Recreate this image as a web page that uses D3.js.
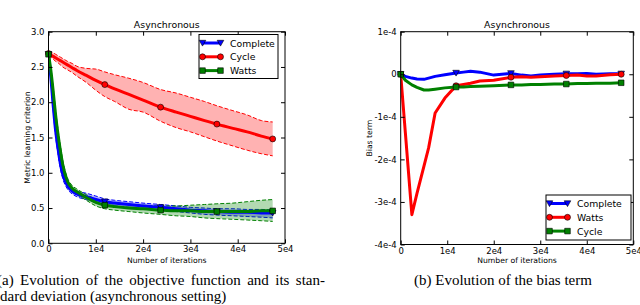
<!DOCTYPE html>
<html>
<head>
<meta charset="utf-8">
<script src="https://cdn.jsdelivr.net/npm/d3@7"></script>
<style>
  body { margin: 0; background: #fff; }
  svg { display: block; }
  text { font-family: "DejaVu Sans", sans-serif; }
  .cap { font-family: "Liberation Serif", "Times New Roman", serif; font-size: 15px; }
</style>
</head>
<body>
<div id="chart"></div>
<script>
// ---------- left panel: metric learning criterion ----------
const iters = [0, 500, 1000, 1500, 2000, 2500, 3000, 4000, 5000, 6000, 8000, 10000, 11900,
  14000, 17000, 20000, 23700, 27000, 30000, 33000, 35600, 39000, 42000, 45000, 47400];

const completeMean = [2.68, 2.35, 1.95, 1.60, 1.35, 1.13, 0.98, 0.82, 0.74, 0.70, 0.66, 0.62, 0.59,
  0.57, 0.55, 0.53, 0.51, 0.49, 0.47, 0.46, 0.45, 0.44, 0.44, 0.43, 0.43];
const completeLo = [2.66, 2.30, 1.88, 1.52, 1.27, 1.06, 0.92, 0.77, 0.70, 0.66, 0.62, 0.58, 0.55,
  0.53, 0.51, 0.49, 0.47, 0.45, 0.43, 0.41, 0.40, 0.39, 0.38, 0.37, 0.36];
const completeHi = [2.70, 2.40, 2.02, 1.68, 1.43, 1.20, 1.04, 0.87, 0.78, 0.74, 0.71, 0.67, 0.63,
  0.61, 0.59, 0.57, 0.55, 0.53, 0.51, 0.50, 0.49, 0.49, 0.48, 0.48, 0.47];

const cycleMean = [2.69, 2.67, 2.65, 2.63, 2.61, 2.59, 2.57, 2.53, 2.49, 2.45, 2.38, 2.31, 2.25,
  2.19, 2.11, 2.03, 1.93, 1.86, 1.80, 1.74, 1.69, 1.63, 1.58, 1.52, 1.48];
const cycleLo = [2.66, 2.64, 2.61, 2.58, 2.56, 2.53, 2.50, 2.46, 2.42, 2.37, 2.28, 2.17, 2.08,
  2.01, 1.90, 1.86, 1.73, 1.64, 1.58, 1.51, 1.45, 1.38, 1.32, 1.27, 1.24];
const cycleHi = [2.72, 2.71, 2.70, 2.68, 2.66, 2.64, 2.62, 2.58, 2.55, 2.51, 2.48, 2.47, 2.43,
  2.39, 2.34, 2.28, 2.18, 2.13, 2.07, 2.01, 1.95, 1.88, 1.82, 1.74, 1.72];

const wattsMean = [2.68, 2.45, 2.15, 1.82, 1.55, 1.32, 1.12, 0.88, 0.78, 0.73, 0.65, 0.58, 0.54,
  0.52, 0.50, 0.49, 0.47, 0.46, 0.46, 0.45, 0.45, 0.45, 0.45, 0.46, 0.46];
const wattsLo = [2.66, 2.41, 2.09, 1.75, 1.48, 1.25, 1.06, 0.83, 0.74, 0.69, 0.61, 0.53, 0.49,
  0.47, 0.45, 0.43, 0.41, 0.39, 0.38, 0.36, 0.35, 0.34, 0.33, 0.32, 0.31];
const wattsHi = [2.70, 2.49, 2.21, 1.89, 1.62, 1.39, 1.18, 0.93, 0.82, 0.77, 0.69, 0.63, 0.59,
  0.57, 0.55, 0.54, 0.53, 0.53, 0.54, 0.55, 0.56, 0.57, 0.59, 0.61, 0.62];

// ---------- right panel: bias term (units of 1e-4) ----------
const iters2 = [0, 1000, 2400, 3500, 5000, 6000, 7400, 9500, 11900, 13500, 15000, 17000, 20000,
  23700, 26000, 28000, 30000, 33000, 35600, 38000, 40000, 42000, 45000, 47400];
const biasComplete = [0, -0.05, -0.09, -0.11, -0.12, -0.09, -0.05, -0.01, 0.03, 0.05, 0.07, 0.05, -0.02,
  0.02, -0.02, -0.04, -0.02, 0, 0.01, 0.01, 0.02, 0, 0.01, 0.01];
const biasWatts = [0, -1.37, -3.3, -2.8, -2.16, -1.73, -0.91, -0.56, -0.27, -0.24, -0.21, -0.16, -0.14,
  -0.07, -0.06, -0.07, -0.06, -0.04, -0.03, -0.02, -0.04, -0.04, -0.01, 0];
const biasCycle = [0, -0.14, -0.25, -0.31, -0.37, -0.37, -0.35, -0.32, -0.30, -0.30, -0.29, -0.28, -0.27,
  -0.25, -0.25, -0.24, -0.24, -0.23, -0.23, -0.22, -0.22, -0.21, -0.21, -0.20];

const markerIters = [0, 11900, 23700, 35600, 47400];
const xTicks = [0, 10000, 20000, 30000, 40000, 50000];
const xTickLabels = ["0", "1e4", "2e4", "3e4", "4e4", "5e4"];
const yTicksA = [0, 0.5, 1.0, 1.5, 2.0, 2.5, 3.0];
const yTickLabelsA = ["0.0", "0.5", "1.0", "1.5", "2.0", "2.5", "3.0"];
const yTicksB = [-4, -3, -2, -1, 0, 1];
const yTickLabelsB = ["-4e-4", "-3e-4", "-2e-4", "-1e-4", "0", "1e-4"];

const BLUE = "#0000ff", RED = "#ff0000", GREEN = "#008000";

const svg = d3.select("#chart").append("svg")
  .attr("width", 640).attr("height", 305);

function markerPath(shape) {
  if (shape === "tri") return "M-3.3,-2.7L3.3,-2.7L0,3.1Z";
  if (shape === "sq") return "M-2.8,-2.8H2.8V2.8H-2.8Z";
  return d3.symbol(d3.symbolCircle, 28)();
}

function drawMarker(g, x, y, shape, color) {
  g.append("path")
    .attr("transform", "translate(" + x + "," + y + ")")
    .attr("d", markerPath(shape))
    .attr("fill", color).attr("stroke", "#000").attr("stroke-width", 0.6);
}

function drawPanel(p) {
  let g = svg.append("g");
  let x = d3.scaleLinear().domain([0, 50000]).range([p.left, p.right]);
  let y = d3.scaleLinear().domain(p.yDomain).range([p.bottom, p.top]);

  g.append("clipPath").attr("id", p.id)
    .append("rect").attr("x", p.left).attr("y", p.top)
    .attr("width", p.right - p.left).attr("height", p.bottom - p.top);
  let plot = g.append("g").attr("clip-path", "url(#" + p.id + ")");

  p.series.forEach((s) => {
    if (s.lo) {
      let area = d3.area().x((d, i) => x(s.x[i])).y0((d, i) => y(s.lo[i])).y1((d, i) => y(s.hi[i]))
        .curve(d3.curveMonotoneX);
      plot.append("path").attr("d", area(s.lo)).attr("fill", s.color).attr("fill-opacity", 0.3);
      [s.lo, s.hi].forEach((b) => {
        let ln = d3.line().x((d, i) => x(s.x[i])).y((d) => y(d)).curve(d3.curveMonotoneX);
        plot.append("path").attr("d", ln(b)).attr("fill", "none")
          .attr("stroke", s.color).attr("stroke-width", 1).attr("stroke-dasharray", "4,2");
      });
    }
  });
  p.series.forEach((s) => {
    let ln = d3.line().x((d, i) => x(s.x[i])).y((d) => y(d)).curve(p.curve);
    plot.append("path").attr("d", ln(s.y)).attr("fill", "none")
      .attr("stroke", s.color).attr("stroke-width", 3).attr("stroke-linejoin", "round");
  });
  p.series.forEach((s) => {
    s.x.forEach((xv, i) => {
      if (markerIters.includes(xv)) drawMarker(g, x(xv), y(s.y[i]), s.shape, s.color);
    });
  });

  // frame
  g.append("rect").attr("x", p.left).attr("y", p.top)
    .attr("width", p.right - p.left).attr("height", p.bottom - p.top)
    .attr("fill", "none").attr("stroke", "#000").attr("stroke-width", 1);

  // ticks (inward, all four sides)
  let ax = g.append("g").attr("transform", "translate(0," + p.bottom + ")")
    .call(d3.axisBottom(x).tickValues(xTicks).tickSizeInner(-4).tickSizeOuter(0)
      .tickPadding(3).tickFormat((d, i) => xTickLabels[i]));
  let axTop = g.append("g").attr("transform", "translate(0," + p.top + ")")
    .call(d3.axisTop(x).tickValues(xTicks).tickSizeInner(-4).tickSizeOuter(0).tickFormat(""));
  let ay = g.append("g").attr("transform", "translate(" + p.left + ",0)")
    .call(d3.axisLeft(y).tickValues(p.yTicks).tickSizeInner(-4).tickSizeOuter(0)
      .tickPadding(4).tickFormat((d, i) => p.yLabels[i]));
  let ayR = g.append("g").attr("transform", "translate(" + p.right + ",0)")
    .call(d3.axisRight(y).tickValues(p.yTicks).tickSizeInner(-4).tickSizeOuter(0).tickFormat(""));
  [ax, axTop, ay, ayR].forEach((a) => {
    a.select(".domain").remove();
    a.selectAll("line").attr("stroke", "#000");
    a.selectAll("text").attr("font-size", 8.5).attr("fill", "#000")
      .style("font-family", "'DejaVu Sans', sans-serif");
  });

  g.append("text").attr("x", (p.left + p.right) / 2).attr("y", 27.5)
    .attr("text-anchor", "middle").attr("font-size", 9.4).text("Asynchronous");
  g.append("text").attr("x", (p.left + p.right) / 2).attr("y", 263)
    .attr("text-anchor", "middle").attr("font-size", 7.7).text("Number of iterations");
  g.append("text")
    .attr("transform", "translate(" + p.yLabelX + "," + (p.top + p.bottom) / 2 + ") rotate(-90)")
    .attr("text-anchor", "middle").attr("font-size", 7.7).text(p.yLabel);

  // legend
  let lg = g.append("g");
  lg.append("rect").attr("x", p.legend.x).attr("y", p.legend.y)
    .attr("width", p.legend.w).attr("height", p.legend.h)
    .attr("fill", "#fff").attr("stroke", "#000").attr("stroke-width", 1);
  p.legend.items.forEach((s, i) => {
    let ly = p.legend.y + 8.5 + i * 13.8;
    let x0 = p.legend.x + 3.5, x1 = p.legend.x + 21.5;
    lg.append("line").attr("x1", x0).attr("x2", x1).attr("y1", ly).attr("y2", ly)
      .attr("stroke", s.color).attr("stroke-width", 3);
    drawMarker(lg, x0, ly, s.shape, s.color);
    drawMarker(lg, x1, ly, s.shape, s.color);
    lg.append("text").attr("x", p.legend.x + 31).attr("y", ly + 3.5)
      .attr("font-size", 9.3).text(s.name);
  });
}

const completeA = { name: "Complete", color: BLUE, shape: "tri", x: iters, y: completeMean, lo: completeLo, hi: completeHi };
const cycleA = { name: "Cycle", color: RED, shape: "circ", x: iters, y: cycleMean, lo: cycleLo, hi: cycleHi };
const wattsA = { name: "Watts", color: GREEN, shape: "sq", x: iters, y: wattsMean, lo: wattsLo, hi: wattsHi };

drawPanel({
  id: "clipA", left: 48.5, right: 285, top: 31.7, bottom: 243.3,
  yDomain: [0, 3], yTicks: yTicksA, yLabels: yTickLabelsA,
  yLabel: "Metric learning criterion", yLabelX: 29.5,
  curve: d3.curveMonotoneX,
  series: [completeA, cycleA, wattsA],
  legend: { x: 199, y: 34.5, w: 79, h: 44, items: [completeA, cycleA, wattsA] }
});

const completeB = { name: "Complete", color: BLUE, shape: "tri", x: iters2, y: biasComplete };
const wattsB = { name: "Watts", color: RED, shape: "circ", x: iters2, y: biasWatts };
const cycleB = { name: "Cycle", color: GREEN, shape: "sq", x: iters2, y: biasCycle };

drawPanel({
  id: "clipB", left: 400.7, right: 633.3, top: 31.7, bottom: 244.5,
  yDomain: [-4, 1], yTicks: yTicksB, yLabels: yTickLabelsB,
  yLabel: "Bias term", yLabelX: 372,
  curve: d3.curveLinear,
  series: [completeB, wattsB, cycleB],
  legend: { x: 546, y: 195, w: 85, h: 45, items: [completeB, wattsB, cycleB] }
});

// captions (first line justified like the LaTeX original)
let cap1 = svg.append("text").attr("class", "cap").attr("x", -3).attr("y", 285)
  .text("(a) Evolution of the objective function and its stan-");
let natural = cap1.node().getComputedTextLength();
let nSpaces = cap1.text().split(" ").length - 1;
cap1.attr("word-spacing", Math.max(0, (328 - natural) / nSpaces));
svg.append("text").attr("class", "cap").attr("x", 0).attr("y", 301)
  .text("dard deviation (asynchronous setting)");
svg.append("text").attr("class", "cap").attr("x", 414).attr("y", 285)
  .text("(b) Evolution of the bias term");
</script>
</body>
</html>
